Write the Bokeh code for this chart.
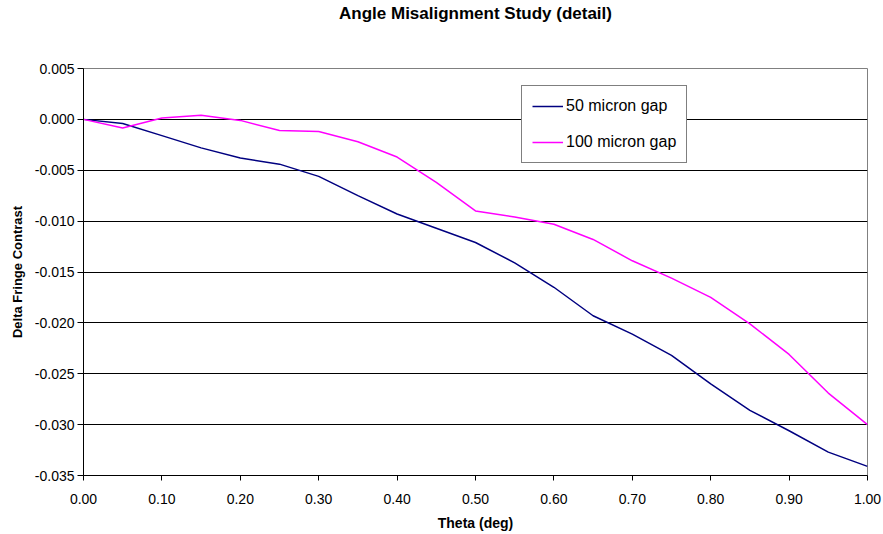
from bokeh.plotting import figure
from bokeh.models import (Range1d, FixedTicker, NumeralTickFormatter, Legend, LegendItem,
                          ColumnDataSource, Title)
from bokeh.embed import file_html
from bokeh.resources import INLINE

theta = [0.00, 0.05, 0.10, 0.15, 0.20, 0.25, 0.30, 0.35, 0.40, 0.45, 0.50,
         0.55, 0.60, 0.65, 0.70, 0.75, 0.80, 0.85, 0.90, 0.95, 1.00]
gap50 = [0.0, -0.0004, -0.0016, -0.0028, -0.0038, -0.0044, -0.0056, -0.0075, -0.0093, -0.0107, -0.0121,
         -0.0141, -0.0165, -0.0193, -0.0211, -0.0232, -0.0260, -0.0286, -0.0306, -0.0327, -0.0341]
gap100 = [0.0, -0.00085, 0.00013, 0.0004, -0.0001, -0.0011, -0.0012, -0.0022, -0.0037, -0.0062, -0.0090,
          -0.0096, -0.0103, -0.0118, -0.0139, -0.0156, -0.0175, -0.0201, -0.0231, -0.0269, -0.0300]
x_ticks = [0.0, 0.1, 0.2, 0.3, 0.4, 0.5, 0.6, 0.7, 0.8, 0.9, 1.0]
y_ticks = [-0.035, -0.030, -0.025, -0.020, -0.015, -0.010, -0.005, 0.000, 0.005]
series_names = ["50 micron gap", "100 micron gap"]

FONT = "Liberation Sans"

p = figure(width=883, height=534, output_backend="svg", toolbar_location=None,
           x_range=Range1d(0, 1), y_range=Range1d(-0.035, 0.005),
           min_border_left=83, min_border_right=16, min_border_top=68, min_border_bottom=59)
p.title = None
# invisible spacer nearest the frame, then the real title above it
spacer = Title(text=" ", text_font=FONT, text_font_size="17px", text_color="white", standoff=25)
p.add_layout(spacer, "above")
t = Title(text="Angle Misalignment Study (detail)", align="center",
          text_font=FONT, text_font_size="17px", text_font_style="bold",
          text_color="black", standoff=0)
p.add_layout(t, "above")

src = ColumnDataSource(dict(theta=theta, gap50=gap50, gap100=gap100))
r1 = p.line("theta", "gap50", source=src, line_color="#000080", line_width=1.5)
r2 = p.line("theta", "gap100", source=src, line_color="#FF00FF", line_width=1.5)

p.xgrid.visible = False
p.ygrid.grid_line_color = "black"
p.ygrid.grid_line_width = 1
p.outline_line_color = "#808080"
p.background_fill_color = "white"
p.border_fill_color = "white"

p.xaxis.ticker = FixedTicker(ticks=x_ticks)
p.yaxis.ticker = FixedTicker(ticks=y_ticks)
p.ygrid.ticker = FixedTicker(ticks=y_ticks)
p.xaxis.formatter = NumeralTickFormatter(format="0.00")
p.yaxis.formatter = NumeralTickFormatter(format="0.000")
for ax in (p.xaxis, p.yaxis):
    ax.minor_tick_line_color = None
    ax.major_tick_in = 0
    ax.axis_line_color = "black"
    ax.major_tick_line_color = "black"
    ax.major_label_text_font = FONT
    ax.major_label_text_font_size = "14px"
    ax.major_label_text_color = "black"
    ax.axis_label_text_font = FONT
    ax.axis_label_text_font_style = "bold"
    ax.axis_label_text_color = "black"
p.xaxis.major_tick_out = 5
p.yaxis.major_tick_out = 6
p.xaxis.major_label_standoff = 13
p.yaxis.major_label_standoff = 3
p.xaxis.axis_label = "Theta (deg)"
p.yaxis.axis_label = "Delta Fringe Contrast"
p.xaxis.axis_label_text_font_size = "14px"
p.yaxis.axis_label_text_font_size = "13px"
p.xaxis.axis_label_standoff = 8
p.yaxis.axis_label_standoff = 7

legend = Legend(items=[LegendItem(label=series_names[0], renderers=[r1]),
                       LegendItem(label=series_names[1], renderers=[r2])],
                location=(438, 312), padding=10, spacing=16, glyph_height=20, glyph_width=31,
                label_standoff=3, label_height=20,
                label_text_font=FONT, label_text_font_size="16px", label_text_color="black",
                border_line_color="black", border_line_width=1, background_fill_alpha=1,
                margin=0)
p.add_layout(legend, "center")

open("out.html", "w").write(file_html(p, INLINE))
